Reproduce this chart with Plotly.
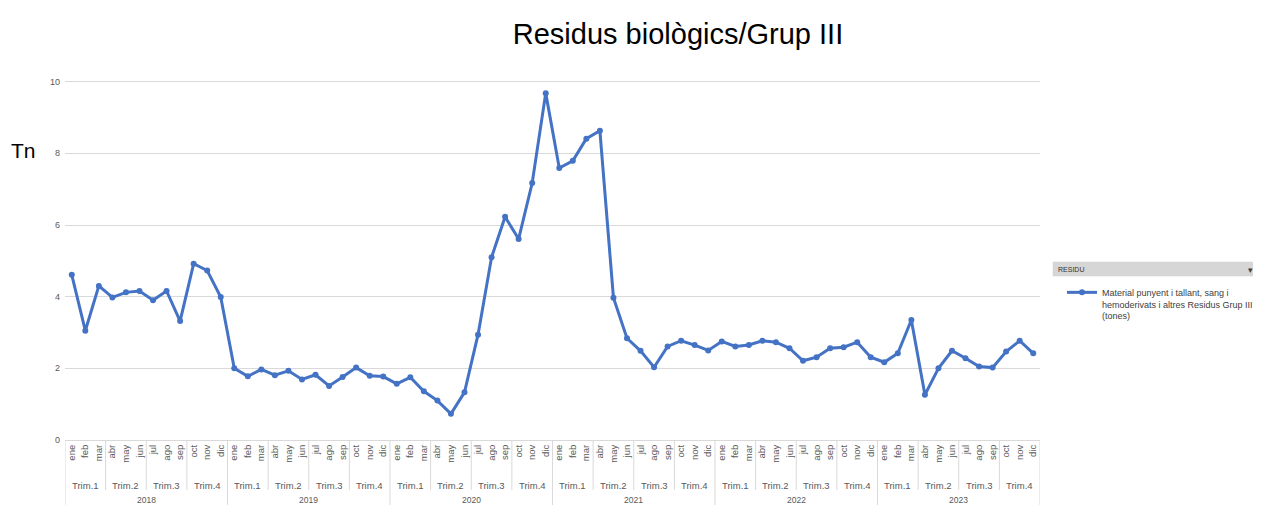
import plotly.graph_objects as go

months = ["ene", "feb", "mar", "abr", "may", "jun", "jul", "ago", "sep", "oct", "nov", "dic"]
trims = ["Trim.1", "Trim.2", "Trim.3", "Trim.4"]
years = ["2018", "2019", "2020", "2021", "2022", "2023"]

v2018 = [4.61, 3.05, 4.30, 3.98, 4.12, 4.16, 3.90, 4.16, 3.32, 4.92, 4.73, 3.99]
v2019 = [2.00, 1.78, 1.97, 1.81, 1.93, 1.69, 1.82, 1.51, 1.76, 2.02, 1.79, 1.77]
v2020 = [1.57, 1.75, 1.36, 1.10, 0.73, 1.33, 2.94, 5.10, 6.23, 5.61, 7.17, 9.68]
v2021 = [7.59, 7.79, 8.41, 8.63, 3.97, 2.84, 2.49, 2.03, 2.61, 2.77, 2.65, 2.50]
v2022 = [2.75, 2.61, 2.65, 2.77, 2.73, 2.56, 2.21, 2.31, 2.56, 2.59, 2.73, 2.31]
v2023 = [2.17, 2.42, 3.35, 1.26, 2.00, 2.49, 2.28, 2.05, 2.02, 2.47, 2.77, 2.42]

series_name = "Material punyent i tallant, sang i<br>hemoderivats i altres Residus Grup III<br>(tones)"

values = v2018 + v2019 + v2020 + v2021 + v2022 + v2023
n = len(values)
idx = list(range(n))
month_labels = months * len(years)

OFF = 8  # page body margin
W, H = 1261 - OFF, 505 - OFF
ML, MR, MT, MB = 65 - OFF, 221, 10 - OFF, 65
PW = W - ML - MR
PH = H - MT - MB

def py(pix):  # page pixel y (from top) -> paper y
    return (H - MB - (pix - OFF)) / PH

def px(pix):  # page pixel x -> paper x
    return ((pix - OFF) - ML) / PW

fig = go.Figure()
fig.add_trace(go.Scatter(
    x=idx, y=values, mode="lines+markers", name=series_name,
    line=dict(color="#4472C4", width=3),
    marker=dict(color="#4472C4", size=6),
    showlegend=True,
))

grid = "#d9d9d9"
label_col = "#595959"
shapes = []
annotations = []

# quarter / year divider lines
for q in range(len(years) * 4 + 1):
    xb = q * 3 - 0.5
    is_year = (q % 4 == 0)
    shapes.append(dict(type="line", xref="x", yref="paper", x0=xb, x1=xb,
                       y0=0, y1=py(505) if is_year else py(490),
                       line=dict(color=grid, width=1)))

for yi, yr in enumerate(years):
    for qi, t in enumerate(trims):
        annotations.append(dict(text=t, xref="x", yref="paper", x=yi * 12 + qi * 3 + 1,
                                y=py(485), xanchor="center", yanchor="middle",
                                showarrow=False, font=dict(size=9.5, color=label_col)))
    annotations.append(dict(text=yr, xref="x", yref="paper", x=yi * 12 + 5.5,
                            y=py(500), xanchor="center", yanchor="middle",
                            showarrow=False, font=dict(size=8.5, color=label_col)))

annotations.append(dict(text="Tn", xref="paper", yref="paper", x=px(23), y=py(150),
                        xanchor="center", yanchor="middle",
                        showarrow=False, font=dict(size=21, color="black",
                                                   family="Liberation Sans, Arial")))

# pivot field button above legend
shapes.append(dict(type="rect", xref="paper", yref="paper", x0=px(1053), x1=px(1262),
                   y0=py(276), y1=py(262), fillcolor="#d6d6d6",
                   line=dict(color="#d0d0d0", width=0.5)))
annotations.append(dict(text="RESIDU", xref="paper", yref="paper", x=px(1056), y=py(269),
                        xanchor="left", yanchor="middle", showarrow=False,
                        font=dict(size=7, color="#303030", family="Liberation Sans, Arial")))
annotations.append(dict(text="▾", xref="paper", yref="paper", x=px(1250), y=py(270),
                        xanchor="center", yanchor="middle",
                        showarrow=False, font=dict(size=9, color="#404040")))

fig.update_layout(
    width=W, height=H,
    margin=dict(l=ML, r=MR, t=MT, b=MB, autoexpand=False),
    plot_bgcolor="white", paper_bgcolor="white",
    font=dict(family="Liberation Sans, Arial", color=label_col),
    title=dict(text="Residus biològics/Grup III", x=(678 - OFF) / W, xanchor="center",
               y=1 - (34 - OFF) / H, yanchor="middle", yref="container", automargin=False,
               font=dict(size=29, color="black", family="Liberation Sans, Arial")),
    xaxis=dict(range=[-0.5, n - 0.5], tickvals=idx, ticktext=month_labels,
               tickangle=-90, tickfont=dict(size=9.5, color=label_col),
               showgrid=False, zeroline=False, showline=True, linecolor=grid,
               ticks="", automargin=False),
    yaxis=dict(range=[0, 12], tickvals=[0, 2, 4, 6, 8, 10, 12],
               tickfont=dict(size=9, color=label_col), showgrid=True,
               gridcolor=grid, gridwidth=1, zeroline=False, showline=False,
               ticks="", ticklabelstandoff=4, automargin=False),
    legend=dict(x=px(1062), y=py(280), xanchor="left", yanchor="top",
                font=dict(size=9, color="#404040"), itemwidth=30, valign="top",
                bgcolor="rgba(0,0,0,0)", tracegroupgap=0),
    shapes=shapes,
    annotations=annotations,
)

fig.write_html("out.html")
